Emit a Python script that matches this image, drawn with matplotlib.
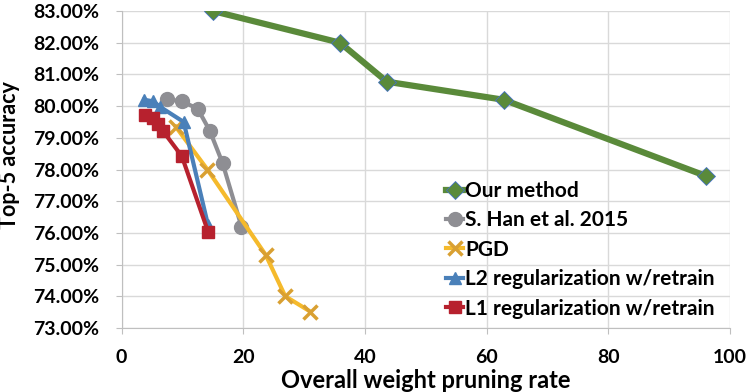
import matplotlib
matplotlib.use("Agg")
import matplotlib.pyplot as plt
from matplotlib.ticker import FuncFormatter, MultipleLocator

# values
ours_x = [15.0, 35.9, 43.6, 62.8, 96.0]
ours_y = [83.0, 82.0, 80.77, 80.2, 77.8]

han_x = [7.4, 9.9, 12.5, 14.5, 16.6, 19.7]
han_y = [80.22, 80.15, 79.92, 79.22, 78.2, 76.2]

pgd_x = [8.9, 14.1, 23.7, 26.9, 31.0]
pgd_y = [79.35, 78.0, 75.3, 74.0, 73.52]

l2_x = [3.7, 5.2, 6.3, 10.2, 14.2]
l2_y = [80.2, 80.15, 79.98, 79.5, 76.25]

l1_x = [3.85, 5.2, 6.0, 6.85, 9.9, 14.25]
l1_y = [79.72, 79.62, 79.42, 79.2, 78.42, 76.02]

labels = ["Our method", "S. Han et al. 2015", "PGD",
          "L2 regularization w/retrain", "L1 regularization w/retrain"]

plt.rcParams['font.family'] = ['Lato', 'DejaVu Sans']
plt.rcParams['font.weight'] = 'bold'

fig = plt.figure(figsize=(7.47, 3.92), dpi=100)
ax = fig.add_axes([0.1628, 0.1633, 0.8144, 0.8086])

ax.plot(ours_x, ours_y, color='#5A8A3A', lw=4.5, marker='D', ms=9,
        mfc='#5A8A3A', mec='#4472C4', mew=0.6, label=labels[0], zorder=3)
ax.plot(han_x, han_y, color='#8E8E93', lw=3, marker='o', ms=10,
        mfc='#8E8E93', mec='#8E8E93', label=labels[1], zorder=3)
ax.plot(pgd_x, pgd_y, color='#F5BA2C', lw=3, marker='x', ms=10, mew=2.5,
        mec='#D9A032', label=labels[2], zorder=4)
ax.plot(l2_x, l2_y, color='#4A80B9', lw=3, marker='^', ms=9,
        mfc='#4A80B9', mec='#4A80B9', label=labels[3], zorder=5)
ax.plot(l1_x, l1_y, color='#B7212E', lw=3, marker='s', ms=9,
        mfc='#B7212E', mec='#B7212E', label=labels[4], zorder=6)

ax.set_xlim(0, 100)
ax.set_ylim(73, 83)
ax.xaxis.set_major_locator(MultipleLocator(20))
ax.yaxis.set_major_locator(MultipleLocator(1))
ax.yaxis.set_major_formatter(FuncFormatter(lambda v, p: f"{v:.2f}%"))

ax.grid(True, color='#D9D9D9', lw=1)
ax.set_axisbelow(True)
for s in ['top', 'right']:
    ax.spines[s].set_visible(False)
for s in ['left', 'bottom']:
    ax.spines[s].set_color('#BFBFBF')
ax.tick_params(colors='#BFBFBF', length=4.5, labelcolor='black', labelsize=14)
ax.tick_params(axis='y', pad=11.5)
ax.tick_params(axis='x', pad=10.5)
for lab in ax.get_xticklabels() + ax.get_yticklabels():
    lab.set_fontweight('bold')

ax.set_xlabel("Overall weight pruning rate", fontsize=17, fontweight='bold')
ax.set_ylabel("Top-5 accuracy", fontsize=15.5, fontweight='bold')
ax.xaxis.set_label_coords(0.5, -0.13)
ax.yaxis.set_label_coords(-0.167, 0.545)

leg = ax.legend(loc='upper left', bbox_to_anchor=(0.52, 0.49), frameon=False,
                handlelength=0.8, handletextpad=0.1, labelspacing=0.45,
                prop={'size': 15, 'weight': 'bold'}, borderaxespad=0)

fig.savefig("out.png", dpi=100)
